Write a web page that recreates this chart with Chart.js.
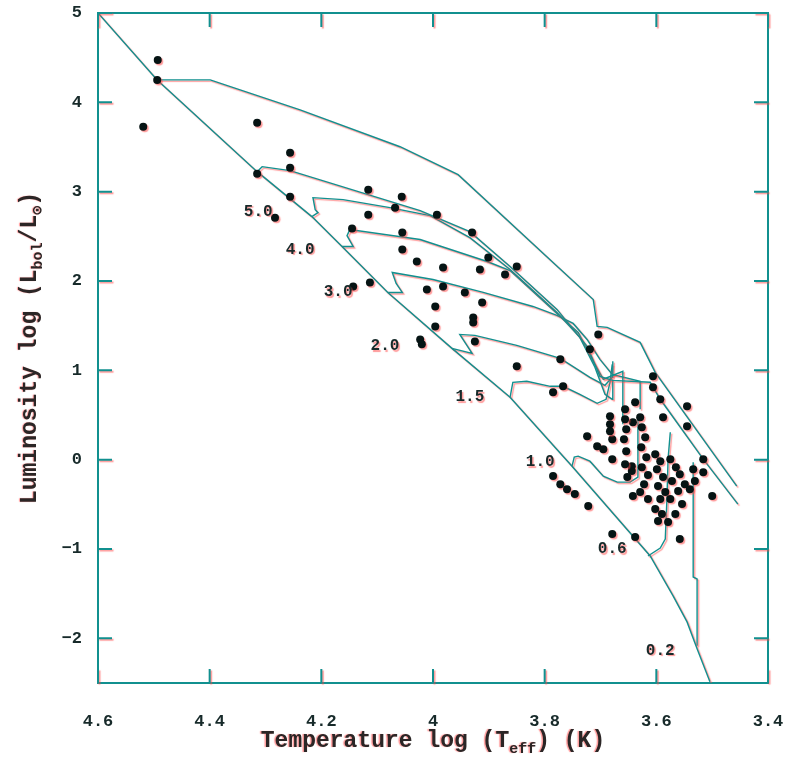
<!DOCTYPE html>
<html>
<head>
<meta charset="utf-8">
<script src="https://cdn.jsdelivr.net/npm/chart.js@4.4.1/dist/chart.umd.min.js"></script>
<style>
html, body { margin: 0; padding: 0; background: #fff; }
canvas { display: block; }
</style>
</head>
<body>
<canvas id="hrd" width="786" height="759"></canvas>
<script>
// observed stars: log Teff, log L/Lsun
var starT = [4.493,4.494,4.519,4.315,4.256,4.256,4.315,4.256,4.283,4.116,4.116,4.145,4.056,4.068,4.055,4.055,4.029,4.143,4.113,3.993,
	3.930,3.901,3.916,3.871,3.850,3.982,4.011,3.982,3.943,3.912,3.996,3.928,3.928,3.996,4.023,4.020,3.925,3.850,3.772,3.719,
	3.704,3.767,3.785,3.606,3.606,3.593,3.588,3.545,3.545,3.516,3.516,3.500,3.724,3.706,3.695,3.679,3.679,3.642,3.644,3.644,
	3.642,3.615,3.785,3.772,3.760,3.746,3.722,3.679,3.638,3.558,3.638,3.683,3.683,3.683,
	3.656,3.656,3.654,3.658,3.654,3.656,3.652,3.629,3.626,3.620,3.627,3.618,3.626,3.615,3.622,3.629,3.602,3.593,3.599,3.588,
	3.597,3.584,3.593,3.602,3.590,3.597,3.575,3.565,3.558,3.572,3.549,3.561,3.540,3.575,3.554,3.566,3.579,3.534,3.531];
var starL = [4.475,4.251,3.726,3.771,3.436,3.268,3.201,2.944,2.709,3.022,2.743,2.587,2.944,2.821,2.542,2.352,2.218,1.939,1.983,2.743,
	2.542,2.263,2.129,2.073,2.162,2.151,1.905,1.939,1.872,1.760,1.715,1.592,1.536,1.492,1.346,1.291,1.324,1.045,1.123,1.235,
	1.402,0.821,0.754,0.933,0.810,0.676,0.475,0.598,0.374,0.006,-0.140,-0.408,0.263,0.151,0.117,0.006,0.229,0.419,-0.073,-0.128,
	-0.408,-0.441,-0.184,-0.274,-0.330,-0.385,-0.520,-0.832,-0.866,-0.888,0.642,0.486,0.397,0.319,
	0.564,0.453,0.341,0.229,0.095,-0.050,-0.195,0.475,0.363,0.251,0.140,0.028,-0.084,-0.173,-0.274,-0.363,0.062,-0.017,-0.106,-0.195,
	-0.296,-0.363,-0.441,-0.553,-0.609,-0.687,0.006,-0.084,-0.162,-0.240,-0.274,-0.352,-0.330,-0.441,-0.497,-0.609,-0.698,-0.106,-0.240];

// zero age main sequence
var zamsT = [4.6,4.494,4.315,4.217,4.163,4.081,3.966,3.862,3.751,3.611,3.570,3.545,3.527,3.504];
var zamsL = [5.0,4.251,3.224,2.721,2.386,1.872,1.246,0.698,-0.073,-1.078,-1.525,-1.816,-2.117,-2.486];

// evolutionary tracks (the two top ones have no label)
var trkAT = [4.494,4.399,4.238,4.059,3.955,3.785,3.713,3.706,3.688,3.629,3.602,3.456];
var trkAL = [4.251,4.251,3.916,3.503,3.190,2.207,1.793,1.492,1.481,1.313,0.978,-0.296];
var trkBT = [4.315,4.306,4.256,4.023,3.934,3.862,3.778,3.724,3.701,3.678,3.611,3.593,3.516,3.454];
var trkBL = [3.224,3.280,3.235,2.788,2.553,2.162,1.682,1.268,0.933,0.888,0.866,0.676,0.006,-0.497];
var m50T = [4.217,4.206,4.211,4.215,4.161,4.077,4.005,3.934,3.862,3.778,3.737,3.710,3.692,3.679,3.678];
var m50L = [2.721,2.765,2.799,2.933,2.911,2.821,2.732,2.486,2.129,1.648,1.369,1.034,0.732,0.676,0.888];
var m40T = [4.163,4.143,4.154,4.149,4.023,3.903,3.862,3.778,3.740,3.713,3.695,3.660,3.660];
var m40L = [2.386,2.386,2.508,2.575,2.464,2.218,2.117,1.637,1.425,1.101,0.900,0.989,0.397];
var m30T = [4.081,4.055,4.066,4.073,4.000,3.910,3.821,3.778,3.749,3.724,3.701,3.679,3.629,3.629];
var m30L = [1.872,1.872,1.972,2.095,2.017,1.872,1.715,1.615,1.525,1.346,1.123,0.955,0.877,0.564];
var m20T = [3.966,3.930,3.944,3.952,3.925,3.850,3.772,3.719,3.692,3.679,3.678];
var m20L = [1.246,1.190,1.324,1.402,1.391,1.279,1.134,0.922,0.832,0.922,1.101];
var m15T = [3.862,3.857,3.832,3.790,3.767,3.737,3.706,3.690,3.683,3.679];
var m15L = [0.698,0.866,0.877,0.821,0.821,0.732,0.631,0.676,0.866,1.067];
var m10T = [3.751,3.747,3.740,3.719,3.695,3.670,3.647,3.633,3.633];
var m10L = [-0.073,0.028,0.039,-0.017,-0.184,-0.251,-0.251,-0.195,0.453];
var m06T = [3.615,3.593,3.584,3.581,3.579,3.575];
var m06L = [-1.078,-0.989,-0.888,-0.441,0.006,0.307];
var m02T = [3.527,3.527,3.534,3.534];
var m02L = [-2.084,-1.335,-1.313,-0.028];

// mass labels and where they sit (log Teff, log L)
var massLabels = ['5.0','4.0','3.0','2.0','1.5','1.0','0.6','0.2'];
var massLabelT = [4.313,4.238,4.170,4.086,3.934,3.808,3.679,3.593];
var massLabelL = [2.777,2.352,1.872,1.268,0.698,-0.028,-1.0,-2.14];

// axes
var xTickValues = [4.6,4.4,4.2,4.0,3.8,3.6,3.4];
var xTickLabels = ['4.6','4.4','4.2','4','3.8','3.6','3.4'];
var yTickValues = [5,4,3,2,1,0,-1,-2];
var yTickLabels = ['5','4','3','2','1','0','\u22121','\u22122'];

var teal = '#11908f';
var ink = '#172a2a';
var fringe = 'rgba(255,70,70,0.55)';
var fam = "'Liberation Mono', 'DejaVu Sans Mono', monospace";

function pairs(xs, ys) {
	var out = [];
	for (var i = 0; i < xs.length && i < ys.length; i++) out.push({x: xs[i], y: ys[i]});
	return out;
}

function trackSet(xs, ys) {
	return {
		type: 'line',
		data: pairs(xs, ys),
		showLine: true,
		borderColor: teal,
		borderWidth: 1.4,
		pointRadius: 0,
		fill: false,
		tension: 0
	};
}

function richText(c, parts, cx, baseY, big, small) {
	var w = 0;
	parts.forEach(function(p){
		c.font = 'bold ' + (p[1] ? small : big) + 'px ' + fam;
		w += c.measureText(p[0]).width;
	});
	var x = cx - w / 2;
	parts.forEach(function(p){
		c.font = 'bold ' + (p[1] ? small : big) + 'px ' + fam;
		c.fillText(p[0], x, baseY + (p[1] ? 6 : 0));
		x += c.measureText(p[0]).width;
	});
}

var fringePlugin = {
	id: 'fringe',
	beforeDatasetsDraw: function(chart) {
		var c = chart.ctx;
		c.save();
		c.shadowColor = fringe;
		c.shadowOffsetX = 1.5;
		c.shadowOffsetY = 1.5;
		c.shadowBlur = 1;
	},
	afterDatasetsDraw: function(chart) {
		chart.ctx.restore();
	}
};

var framePlugin = {
	id: 'frame',
	afterDraw: function(chart) {
		var c = chart.ctx, a = chart.chartArea;
		var sx = chart.scales.x, sy = chart.scales.y;
		c.save();
		c.shadowColor = fringe;
		c.shadowOffsetX = 1.5;
		c.shadowOffsetY = 1.5;
		c.shadowBlur = 1;
		// inward ticks on all four sides
		c.strokeStyle = teal;
		c.lineWidth = 2;
		c.beginPath();
		xTickValues.forEach(function(v){
			var p = sx.getPixelForValue(v);
			c.moveTo(p, a.bottom); c.lineTo(p, a.bottom - 14);
			c.moveTo(p, a.top); c.lineTo(p, a.top + 14);
		});
		yTickValues.forEach(function(v){
			var p = sy.getPixelForValue(v);
			c.moveTo(a.left, p); c.lineTo(a.left + 14, p);
			c.moveTo(a.right, p); c.lineTo(a.right - 14, p);
		});
		c.stroke();

		// mass labels
		c.fillStyle = ink;
		c.font = 'bold 16px ' + fam;
		c.textAlign = 'center';
		c.textBaseline = 'middle';
		massLabels.forEach(function(t, i){
			c.fillText(t, sx.getPixelForValue(massLabelT[i]), sy.getPixelForValue(massLabelL[i]));
		});

		// axis titles
		c.shadowOffsetX = -1.5;
		c.shadowOffsetY = 0;
		c.textAlign = 'left';
		c.textBaseline = 'alphabetic';
		c.fillStyle = '#2b2626';
		richText(c, [['Temperature log (T', false], ['eff', true], [') (K)', false]], (a.left + a.right) / 2, 747, 23, 15);
		c.translate(36, (a.top + a.bottom) / 2);
		c.rotate(-Math.PI / 2);
		richText(c, [['Luminosity log (L', false], ['bol', true], ['/L', false], ['\u2299', true], [')', false]], 0, 0, 23, 15);
		c.restore();
	}
};

var ctx_hrd = document.getElementById('hrd');

var hrd_datasets = [
	{
		type: 'scatter',
		data: pairs(starT, starL),
		pointRadius: 4,
		pointBackgroundColor: '#061414',
		pointBorderWidth: 0
	},
	trackSet(zamsT, zamsL),
	trackSet(trkAT, trkAL),
	trackSet(trkBT, trkBL),
	trackSet(m50T, m50L),
	trackSet(m40T, m40L),
	trackSet(m30T, m30L),
	trackSet(m20T, m20L),
	trackSet(m15T, m15L),
	trackSet(m10T, m10L),
	trackSet(m06T, m06L),
	trackSet(m02T, m02L)
];

var borderOpts = {display: true, color: teal, width: 2};

// keep the plot frame where it is in the figure: no extra room for label overhang
function fitX(h) {
	return function(s){ s.height = h; s.paddingLeft = 0; s.paddingRight = 0; };
}
function fitY(w) {
	return function(s){ s.width = w; s.paddingTop = 0; s.paddingBottom = 0; };
}

var hrd_chart = new Chart(ctx_hrd, {
	type: 'scatter',
	data: {datasets: hrd_datasets},
	options: {
		responsive: false,
		animation: false,
		layout: {padding: {top: 13, right: 18, left: 0, bottom: 0}},
		plugins: {legend: {display: false}, tooltip: {enabled: false}},
		scales: {
			x: {
				type: 'linear', position: 'bottom', reverse: true, min: 3.4, max: 4.6,
				grid: {display: false}, border: borderOpts,
				afterBuildTicks: function(s){ s.ticks = xTickValues.map(function(v){ return {value: v}; }); },
				afterFit: fitX(76),
				ticks: {
					padding: 21, color: ink, font: {family: fam, size: 17, weight: 'bold'},
					maxRotation: 0, autoSkip: false,
					callback: function(v, i){ return xTickLabels[i]; }
				}
			},
			x2: {
				type: 'linear', position: 'top', reverse: true, min: 3.4, max: 4.6,
				grid: {display: false}, border: borderOpts, ticks: {display: false},
				afterFit: fitX(0)
			},
			y: {
				type: 'linear', position: 'left', min: -2.5, max: 5,
				grid: {display: false}, border: borderOpts,
				afterBuildTicks: function(s){ s.ticks = yTickValues.map(function(v){ return {value: v}; }); },
				afterFit: fitY(98),
				ticks: {
					padding: 8, color: ink, font: {family: fam, size: 17, weight: 'bold'},
					autoSkip: false,
					callback: function(v, i){ return yTickLabels[i]; }
				}
			},
			y2: {
				type: 'linear', position: 'right', min: -2.5, max: 5,
				grid: {display: false}, border: borderOpts, ticks: {display: false},
				afterFit: fitY(0)
			}
		}
	},
	plugins: [fringePlugin, framePlugin]
});
</script>
</body>
</html>
